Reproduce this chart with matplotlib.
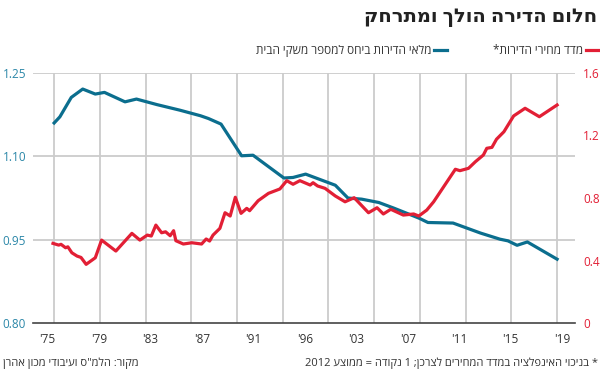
import matplotlib
matplotlib.use('Agg')
import matplotlib.pyplot as plt
import numpy as np

plt.rcParams['font.family'] = ['Open Sans', 'DejaVu Sans']

# מלאי הדירות ביחס למספר משקי הבית (ציר שמאלי)
stock_years = [1975, 1975.5, 1976.5, 1977.5, 1978.6, 1979.4, 1981.2, 1982.2, 1984, 1986,
               1987.8, 1988.5, 1989.6, 1991.4, 1992.4, 1995.1, 1995.9, 1997.0, 1999.6,
               2000.7, 2001.9, 2003.4, 2004.7, 2006.9, 2007.7, 2009.9, 2011.1, 2012.3,
               2014.0, 2014.7, 2015.5, 2016.4, 2019.0]
stock_values = [1.160, 1.171, 1.206, 1.221, 1.212, 1.215, 1.198, 1.203, 1.193, 1.183,
                1.173, 1.168, 1.158, 1.101, 1.102, 1.061, 1.062, 1.068, 1.048,
                1.025, 1.023, 1.017, 1.007, 0.989, 0.981, 0.980, 0.971, 0.962,
                0.951, 0.948, 0.940, 0.946, 0.915]

# מדד מחירי הדירות (ציר ימני)
price_years = [1974.9, 1975.4, 1975.6, 1976.0, 1976.2, 1976.55, 1977.0, 1977.35, 1977.8,
               1978.6, 1979.15, 1980.4, 1981.8, 1982.5, 1983.15, 1983.5, 1983.9, 1984.4,
               1984.75, 1985.15, 1985.45, 1985.65, 1986.3, 1987.05, 1987.9, 1988.3,
               1988.6, 1988.9, 1989.5, 1989.95, 1990.4, 1990.85, 1991.35, 1991.85,
               1992.1, 1992.85, 1993.75, 1994.75, 1995.35, 1995.9, 1996.5, 1997.4,
               1997.65, 1998.05, 1998.7, 1999.6, 2000.45, 2001.25, 2002.5, 2003.25,
               2003.8, 2004.45, 2005.55, 2006.45, 2006.9, 2007.6, 2008.2, 2010.1,
               2010.5, 2011.25, 2011.85, 2012.55, 2012.85, 2013.3, 2013.7, 2014.35,
               2015.2, 2016.2, 2017.45, 2019.0]
price_values = [0.510, 0.499, 0.504, 0.482, 0.488, 0.450, 0.429, 0.420, 0.376,
                0.418, 0.531, 0.461, 0.574, 0.531, 0.563, 0.557, 0.627, 0.578,
                0.584, 0.559, 0.591, 0.527, 0.506, 0.514, 0.506, 0.538,
                0.525, 0.563, 0.606, 0.706, 0.685, 0.805, 0.702, 0.734,
                0.719, 0.783, 0.830, 0.858, 0.911, 0.888, 0.911, 0.883,
                0.898, 0.877, 0.862, 0.813, 0.776, 0.802, 0.706, 0.738,
                0.698, 0.728, 0.691, 0.698, 0.685, 0.723, 0.776, 0.984,
                0.975, 0.990, 1.032, 1.075, 1.118, 1.124, 1.176, 1.224,
                1.325, 1.374, 1.320, 1.395]

x_labels = ["'75", "'79", "'83", "'87", "'91", "'96", "'03", "'07", "'11", "'15", "'19"]
left_ticks = [0.80, 0.95, 1.10, 1.25]
right_ticks = [0, 0.4, 0.8, 1.2, 1.6]

BLUE = '#0b6e8e'
BLUE_TXT = '#2b87a8'
RED = '#e21f35'
GRID = '#cccccc'
TXT = '#333333'


def heb(s):
    # matplotlib draws left to right, so flip Hebrew words by hand
    out = []
    for tok in reversed(s.split(' ')):
        if any('\u0590' <= c <= '\u05ff' for c in tok):
            tok = tok[::-1]
        out.append(tok)
    return ' '.join(out)


fig = plt.figure(figsize=(6, 3.74), dpi=100)
ax = fig.add_axes([0.055, 0.136, 0.903, 0.669])
ax2 = ax.twinx()

ax.set_xlim(1973.15, 2020.55)
ax.set_ylim(0.80, 1.25)
ax2.set_ylim(0, 1.6)

for yv in left_ticks[1:]:
    ax.axhline(yv, color=GRID, lw=1.3, zorder=0)
for xv in range(1975, 2020, 4):
    ax.axvline(xv, color=GRID, lw=1.3, zorder=0)

ax.plot(stock_years, stock_values, color=BLUE, lw=2.3, solid_joinstyle='round', zorder=3)
ax2.plot(price_years, price_values, color=RED, lw=2.3, solid_joinstyle='round', zorder=3)

for a in (ax, ax2):
    for s in a.spines.values():
        s.set_visible(False)
ax.spines['bottom'].set_visible(True)
ax.spines['bottom'].set_color('#444444')
ax.spines['bottom'].set_linewidth(1.2)

ax.set_yticks(left_ticks)
ax.set_yticklabels(['%.2f' % v for v in left_ticks])
ax.tick_params(axis='y', length=0, pad=5, labelsize=8.5, labelcolor=BLUE_TXT)
ax2.set_yticks(right_ticks)
ax2.set_yticklabels(['0', '0.4', '0.8', '1.2', '1.6'])
ax2.tick_params(axis='y', length=0, pad=6, labelsize=8.5, labelcolor=RED)

ax.set_xticks(np.linspace(1974.4, 2019.45, len(x_labels)))
ax.set_xticklabels(x_labels)
ax.tick_params(axis='x', length=0, pad=7, labelsize=8.5, labelcolor=TXT)

fig.text(0.995, 0.955, heb('חלום הדירה הולך ומתרחק'), ha='right', va='center',
         fontsize=14, fontweight='bold', color='#222222')

# legend
fig.add_artist(plt.Line2D([0.977, 0.998], [0.865, 0.865], color=RED, lw=2.3))
fig.text(0.972, 0.865, heb('מדד מחירי הדירות*'), ha='right', va='center',
         fontsize=8.5, color=TXT)
fig.add_artist(plt.Line2D([0.723, 0.745], [0.865, 0.865], color=BLUE, lw=2.3))
fig.text(0.720, 0.865, heb('מלאי הדירות ביחס למספר משקי הבית'), ha='right', va='center',
         fontsize=8.5, color=TXT)

fig.text(0.997, 0.028, heb('* בניכוי האינפלציה במדד המחירים לצרכן; 1 נקודה = ממוצע 2012'),
         ha='right', va='center', fontsize=8, color=TXT)
fig.text(0.005, 0.028, heb('מקור: הלמ"ס ועיבודי מכון אהרן'),
         ha='left', va='center', fontsize=8, color=TXT)

fig.savefig('out.png', dpi=100)
plt.close(fig)
